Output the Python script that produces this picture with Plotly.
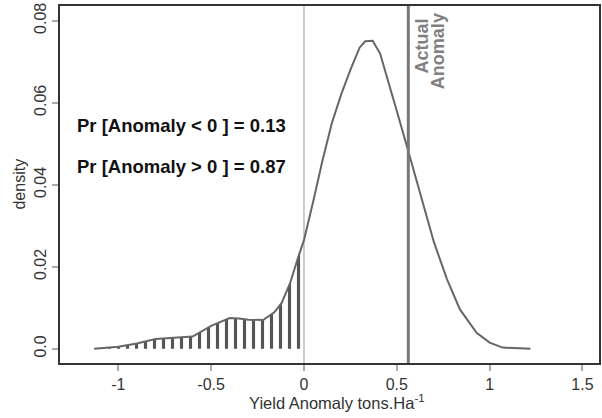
import plotly.graph_objects as go

# density curve
anomaly = [-1.13, -1.0, -0.9, -0.8, -0.7, -0.6, -0.5, -0.4, -0.35, -0.3, -0.22, -0.16,
           -0.12, -0.075, -0.03, 0.0, 0.05, 0.1, 0.15, 0.2, 0.25, 0.3, 0.33, 0.37, 0.41,
           0.45, 0.5, 0.56, 0.6, 0.65, 0.7, 0.77, 0.84, 0.93, 1.0, 1.07, 1.22]
density = [0.0, 0.0005, 0.0013, 0.0024, 0.0027, 0.0030, 0.0056, 0.0075, 0.0074, 0.0071,
           0.0070, 0.0089, 0.0112, 0.016, 0.0225, 0.0265, 0.036, 0.046, 0.055, 0.062,
           0.068, 0.0735, 0.0750, 0.0751, 0.072, 0.066, 0.058, 0.0485, 0.042, 0.034,
           0.026, 0.017, 0.0096, 0.0039, 0.0015, 0.0003, 0.0]

actual_anomaly = 0.562
x_ticks = [-1, -0.5, 0, 0.5, 1, 1.5]
x_ticktext = ["-1", "-0.5", "0", "0.5", "1", "1.5"]
y_ticks = [0.0, 0.02, 0.04, 0.06, 0.08]
y_ticktext = ["0.0", "0.02", "0.04", "0.06", "0.08"]
prob_lines = ["Pr [Anomaly < 0 ] = 0.13", "Pr [Anomaly > 0 ] = 0.87"]
prob_y = [0.0544, 0.0444]

neg_x = [a for a in anomaly if a <= 0]
neg_y = [d for a, d in zip(anomaly, density) if a <= 0]

fig = go.Figure()
fig.add_trace(go.Scatter(
    x=neg_x, y=neg_y, mode="lines", line=dict(width=0, color="rgba(0,0,0,0)"),
    fill="tozeroy", fillcolor="rgba(0,0,0,0)",
    fillpattern=dict(shape="|", fgcolor="#555555", bgcolor="rgba(0,0,0,0)",
                     size=9, solidity=0.35, fillmode="replace"),
    hoverinfo="skip", showlegend=False))
fig.add_trace(go.Scatter(
    x=anomaly, y=density, mode="lines", line=dict(color="#666666", width=2),
    showlegend=False))

fig.add_vline(x=0, line=dict(color="#bbbbbb", width=1.5), layer="below")
fig.add_vline(x=actual_anomaly, line=dict(color="#777777", width=3))

font = "Liberation Sans, Arial, sans-serif"
for txt, yy in zip(prob_lines, prob_y):
    fig.add_annotation(x=-1.233, y=yy, text="<b>%s</b>" % txt, showarrow=False,
                       xanchor="left", yanchor="middle",
                       font=dict(family=font, size=18.5, color="#111111"))
fig.add_annotation(x=0.634, y=0.0739, text="<b>Actual</b>", textangle=-90, showarrow=False,
                   xanchor="center", yanchor="middle",
                   font=dict(family=font, size=18, color="#808080"))
fig.add_annotation(x=0.722, y=0.0726, text="<b>Anomaly</b>", textangle=-90, showarrow=False,
                   xanchor="center", yanchor="middle",
                   font=dict(family=font, size=18, color="#808080"))

# axis titles
fig.add_annotation(xref="paper", yref="paper", x=0.514, y=-0.11,
                   text="Yield Anomaly tons.Ha<sup>-1</sup>", showarrow=False,
                   xanchor="center", yanchor="middle",
                   font=dict(family=font, size=16.5, color="#333333"))
fig.add_annotation(xref="paper", yref="paper", x=-0.076, y=0.5, text="density",
                   textangle=-90, showarrow=False, xanchor="center", yanchor="middle",
                   font=dict(family=font, size=16, color="#333333"))

fig.update_layout(
    width=602, height=418,
    margin=dict(l=60, r=3, t=6, b=55),
    plot_bgcolor="white", paper_bgcolor="white",
    font=dict(family=font, size=16, color="#333333"),
    xaxis=dict(range=[-1.314, 1.589], tickvals=x_ticks, ticktext=x_ticktext,
               showgrid=False, zeroline=False, showline=True, mirror=True,
               linecolor="#333333", linewidth=2, ticks="outside", ticklen=6,
               tickwidth=2, tickcolor="#aaaaaa", tickfont=dict(size=16),
               automargin=False),
    yaxis=dict(range=[-0.00346, 0.0836], tickvals=y_ticks, ticktext=y_ticktext,
               showgrid=False, zeroline=False, showline=True, mirror=True,
               linecolor="#333333", linewidth=2, ticks="outside", ticklen=6,
               tickwidth=2, tickcolor="#aaaaaa", tickangle=-90, tickfont=dict(size=16),
               automargin=False),
)

fig.write_html("out.html", config={"displayModeBar": False},
               post_script="document.body.style.margin='0';document.body.style.overflow='hidden';")
